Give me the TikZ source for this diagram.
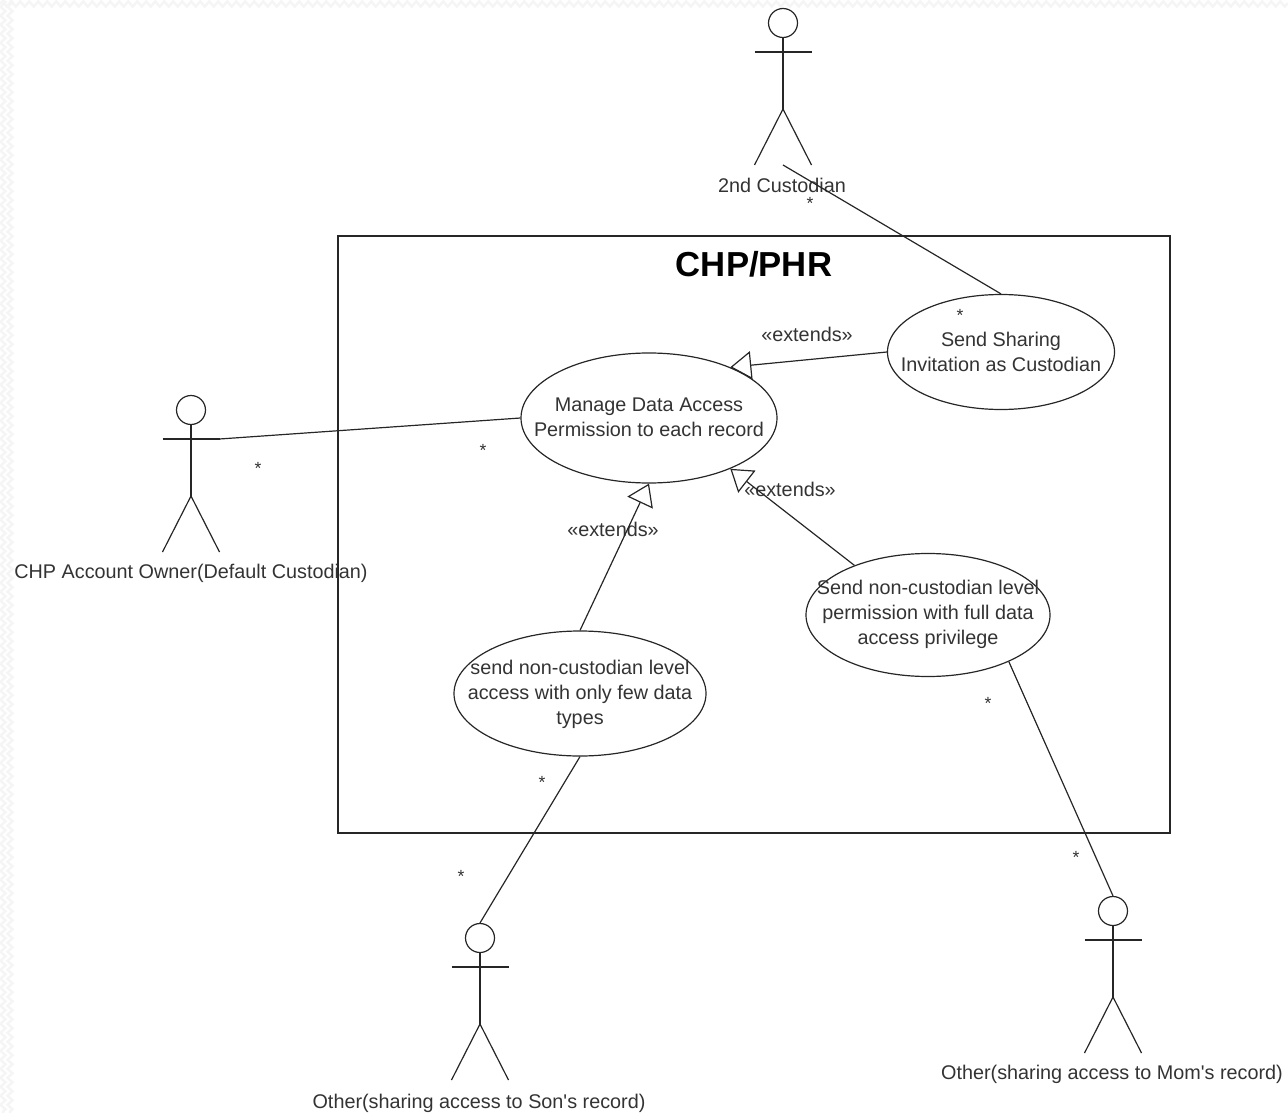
\documentclass[tikz,border=0pt]{standalone}
\usepackage{fontspec}
\setmainfont{Liberation Sans}
\usetikzlibrary{positioning, shapes.geometric, arrows.meta, decorations.pathmorphing}
\tikzset{
    usecase/.style={ellipse, draw=black!85, line width=1.2pt, inner sep=0pt},
    usetext/.style={align=center, font=\fontsize{19.8}{25}\selectfont, text=black!80, inner sep=0pt},
    actorhead/.style={circle, draw=black!85, line width=1.2pt, minimum size=29pt, inner sep=0pt},
    actorlabel/.style={font=\fontsize{19.8}{24}\selectfont, text=black!80, inner sep=0pt},
    stereo/.style={font=\fontsize{19.8}{24}\selectfont, text=black!80, inner sep=0pt},
    mult/.style={font=\fontsize{17.6}{24}\selectfont, text=black!80, inner sep=0pt, yshift=-1pt},
    assoc/.style={draw=black!85, line width=1.2pt},
    extend/.style={draw=black!85, line width=1.2pt, -{Triangle[open, length=21pt, width=28pt]}},
    bgzig/.style={draw=black!4, line width=2.5pt, decorate, decoration={zigzag, segment length=9pt, amplitude=2.5pt}},
    pics/actor/.style={code={
        \node [actorhead] (-head) at (0,0) {};
        \coordinate (-armL) at (-28.5,29);
        \coordinate (-armR) at (28.5,29);
        \coordinate (-hip) at (0,86);
        \coordinate (-footL) at (-28.5,142);
        \coordinate (-footR) at (28.5,142);
        \coordinate (-mid) at (0,142);
        \draw [assoc] (-head) -- (-hip);
        \draw [assoc] (-armL) -- (-armR);
        \draw [assoc] (-footL) -- (-hip) -- (-footR);
    }},
}

\begin{document}
\begin{tikzpicture}[x=1pt, y=-1pt]
    \useasboundingbox (0,0) rectangle (1288,1113);
    % paper edge
    \foreach \i in {3,10} {
        \draw [bgzig] (\i,0) -- (\i,1113);
    }
    \draw [bgzig] (0,4) -- (1288,4);

    \node [draw=black!85, line width=1.2pt, minimum width=832pt, minimum height=597pt, inner sep=0pt] (system) at (754,534.5) {};
    \node [font=\fontsize{34.7}{38}\selectfont\bfseries, inner sep=0pt] (title) at (754,264) {CHP/PHR};

    \node [usecase, minimum width=256pt, minimum height=130pt] (manage) at (649,418) {};
    \node [usecase, minimum width=227pt, minimum height=115pt] (sharing) at (1001,352) {};
    \node [usecase, minimum width=244pt, minimum height=123pt] (full) at (928,615) {};
    \node [usecase, minimum width=252pt, minimum height=125pt] (few) at (580,693.5) {};
    \node [usetext] (managetext) at (649,417) {Manage Data Access\\Permission to each record};
    \node [usetext] (sharingtext) at (1001,352) {Send Sharing\\Invitation as Custodian};
    \node [usetext] (fulltext) at (928,614) {Send non-custodian level\\permission with full data\\access privilege};
    \node [usetext] (fewtext) at (580,694.5) {send non-custodian level\\access with only few data\\types};

    \pic (second) at (783,23) {actor};
    \pic (owner) at (191,410) {actor};
    \pic (son) at (480,938) {actor};
    \pic (mom) at (1113,911) {actor};
    \node [actorlabel] (secondlabel) at (782,185) {2nd Custodian};
    \node [actorlabel] (ownerlabel) at (191,573) {CHP Account Owner(Default Custodian)};
    \node [actorlabel] (sonlabel) at (479,1103) {Other(sharing access to Son\textquotesingle s record)};
    \node [actorlabel] (momlabel) at (1112,1074) {Other(sharing access to Mom\textquotesingle s record)};

    \node [stereo] (ext1) at (807,334) {«extends»};
    \node [stereo] (ext2) at (790,489) {«extends»};
    \node [stereo] (ext3) at (613,529) {«extends»};

    \node [mult] (m1) at (810,202) {*};
    \node [mult] (m2) at (960,314) {*};
    \node [mult] (m3) at (258,467) {*};
    \node [mult] (m4) at (483,449) {*};
    \node [mult] (m5) at (542,781) {*};
    \node [mult] (m6) at (461,875) {*};
    \node [mult] (m7) at (988,702) {*};
    \node [mult] (m8) at (1076,856) {*};

    \draw [assoc] (second-mid) -- (sharing.north);
    \draw [assoc] (owner-armR) -- (manage.west);
    \draw [assoc] (few.south) -- (son-head.north);
    \draw [assoc] (full.-30) -- (mom-head.north);
    \draw [extend] (sharing.west) -- (manage.32);
    \draw [extend] (full.146) -- (manage.-32);
    \draw [extend] (few.north) -- (manage.south);
\end{tikzpicture}
\end{document}
